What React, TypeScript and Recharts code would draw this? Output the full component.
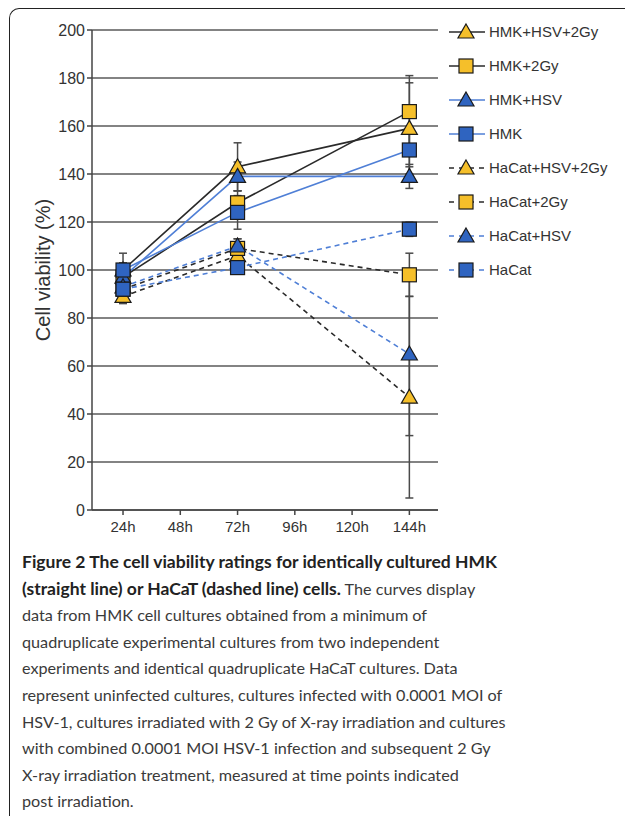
import React from 'react'
import { LineChart, Line, XAxis, YAxis, CartesianGrid, ErrorBar } from 'recharts'

// ---- data ----
const hours = [24, 72, 144]
const hourTicks = [24, 48, 72, 96, 120, 144]
const viabilityTicks = [0, 20, 40, 60, 80, 100, 120, 140, 160, 180, 200]

const hmkHsv2Gy = [100, 143, 159]
const hmkHsv2GyErr = [7, 10, 19]
const hmk2Gy = [97, 128, 166]
const hmk2GyErr = [5, 5, 15]
const hmkHsv = [97, 139, 139]
const hmkHsvErr = [4, 6, 5]
const hmk = [100, 124, 150]
const hmkErr = [3, 7, 7]
const hacatHsv2Gy = [89, 106, 47]
const hacatHsv2GyErr = [3, 4, 42]
const hacat2Gy = [92, 109, 98]
const hacat2GyErr = [3, 4, 9]
const hacatHsv = [93, 110, 65]
const hacatHsvErr = [3, 3, 34]
const hacat = [92, 101, 117]
const hacatErr = [2, 2, 3]

const YELLOW = '#f5bf2a'
const BLUE = '#2f64c0'
const BLACK_LINE = '#2a2a2a'
const BLUE_LINE = '#4f7fd6'

type Series = {
  key: string
  name: string
  values: number[]
  errs: number[]
  color: string
  dashed: boolean
  shape: 'tri' | 'sq'
  fill: string
}

const series: Series[] = [
  { key: 'hmkHsv2Gy', name: 'HMK+HSV+2Gy', values: hmkHsv2Gy, errs: hmkHsv2GyErr, color: BLACK_LINE, dashed: false, shape: 'tri', fill: YELLOW },
  { key: 'hmk2Gy', name: 'HMK+2Gy', values: hmk2Gy, errs: hmk2GyErr, color: BLACK_LINE, dashed: false, shape: 'sq', fill: YELLOW },
  { key: 'hmkHsv', name: 'HMK+HSV', values: hmkHsv, errs: hmkHsvErr, color: BLUE_LINE, dashed: false, shape: 'tri', fill: BLUE },
  { key: 'hmk', name: 'HMK', values: hmk, errs: hmkErr, color: BLUE_LINE, dashed: false, shape: 'sq', fill: BLUE },
  { key: 'hacatHsv2Gy', name: 'HaCat+HSV+2Gy', values: hacatHsv2Gy, errs: hacatHsv2GyErr, color: BLACK_LINE, dashed: true, shape: 'tri', fill: YELLOW },
  { key: 'hacat2Gy', name: 'HaCat+2Gy', values: hacat2Gy, errs: hacat2GyErr, color: BLACK_LINE, dashed: true, shape: 'sq', fill: YELLOW },
  { key: 'hacatHsv', name: 'HaCat+HSV', values: hacatHsv, errs: hacatHsvErr, color: BLUE_LINE, dashed: true, shape: 'tri', fill: BLUE },
  { key: 'hacat', name: 'HaCat', values: hacat, errs: hacatErr, color: BLUE_LINE, dashed: true, shape: 'sq', fill: BLUE },
]

const data = hours.map((h, i) => {
  const row: Record<string, number> = { h }
  series.forEach((s) => {
    row[s.key] = s.values[i]
    row[s.key + 'Err'] = s.errs[i]
  })
  return row
})

const captionBold = [
  'Figure 2 The cell viability ratings for identically cultured HMK',
  '(straight line) or HaCaT (dashed line) cells.',
]
const captionRest = [
  ' The curves display',
  'data from HMK cell cultures obtained from a minimum of',
  'quadruplicate experimental cultures from two independent',
  'experiments and identical quadruplicate HaCaT cultures. Data',
  'represent uninfected cultures, cultures infected with 0.0001 MOI of',
  'HSV-1, cultures irradiated with 2 Gy of X-ray irradiation and cultures',
  'with combined 0.0001 MOI HSV-1 infection and subsequent 2 Gy',
  'X-ray irradiation treatment, measured at time points indicated',
  'post irradiation.',
]

const FONT = '"Liberation Sans", Arial, Helvetica, sans-serif'

function Marker({ cx, cy, shape, fill }: { cx: number; cy: number; shape: string; fill: string }) {
  if (cx == null || cy == null) return null
  if (shape === 'tri') {
    const w = 8, up = 8, down = 6
    return (
      <polygon
        points={`${cx},${cy - up} ${cx + w},${cy + down} ${cx - w},${cy + down}`}
        fill={fill}
        stroke="#1a1a1a"
        strokeWidth={1.2}
      />
    )
  }
  return <rect x={cx - 7} y={cy - 7} width={14} height={14} fill={fill} stroke="#1a1a1a" strokeWidth={1.2} />
}

function LegendBlock() {
  return (
    <svg width={180} height={290} style={{ position: 'absolute', left: 445, top: 0 }}>
      {series.map((s, i) => {
        const y = 32 + i * 34
        return (
          <g key={s.key}>
            <line
              x1={4}
              x2={40}
              y1={y}
              y2={y}
              stroke={s.color}
              strokeWidth={1.6}
              strokeDasharray={s.dashed ? '5 5' : undefined}
            />
            <Marker cx={21} cy={y} shape={s.shape} fill={s.fill} />
            <text x={44} y={y + 5} fontSize={15} fill="#333" fontFamily={FONT}>
              {s.name}
            </text>
          </g>
        )
      })}
    </svg>
  )
}

export default function App() {
  return (
    <div style={{ position: 'absolute', left: 0, top: 0, width: 625, height: 816, background: '#fff', overflow: 'hidden' }}>
      <div
        style={{
          position: 'absolute',
          left: 9,
          top: 8,
          width: 640,
          height: 830,
          borderTop: '1.5px solid #222',
          borderLeft: '1.5px solid #222',
          borderTopLeftRadius: 10,
        }}
      />
      <div style={{ position: 'absolute', left: 0, top: 0 }}>
        <LineChart width={440} height={540} data={data} margin={{ top: 30, right: 2, left: 32, bottom: 0 }}>
          <CartesianGrid vertical={false} stroke="#5a5a5a" strokeWidth={1.6} />
          <XAxis
            dataKey="h"
            type="number"
            domain={[11, 156]}
            ticks={hourTicks}
            allowDataOverflow
            tickFormatter={(v: number) => `${v}h`}
            tick={{ fontSize: 15, fill: '#333', fontFamily: FONT, dy: 4 }}
            axisLine={{ stroke: '#444', strokeWidth: 1.5 }}
            tickLine={{ stroke: '#444', strokeWidth: 1.5 }}
            tickSize={5}
            height={30}
          />
          <YAxis
            domain={[0, 200]}
            ticks={viabilityTicks}
            width={60}
            tick={{ fontSize: 16, fill: '#333', fontFamily: FONT }}
            axisLine={{ stroke: '#444', strokeWidth: 1.5 }}
            tickLine={{ stroke: '#444', strokeWidth: 1.5 }}
            tickSize={5}
            label={{
              value: 'Cell viability (%)',
              angle: -90,
              position: 'insideLeft',
              dx: 6,
              style: { fontSize: 20, fill: '#333', fontFamily: FONT, textAnchor: 'middle' },
            }}
          />
          {series.map((s) => (
            <Line
              key={s.key}
              dataKey={s.key}
              name={s.name}
              type="linear"
              stroke={s.color}
              strokeWidth={1.6}
              strokeDasharray={s.dashed ? '5 4' : undefined}
              isAnimationActive={false}
              dot={(p: any) => (
                <Marker key={`${s.key}-${p.index}`} cx={p.cx} cy={p.cy} shape={s.shape} fill={s.fill} />
              )}
              activeDot={false}
            >
              <ErrorBar dataKey={s.key + 'Err'} direction="y" width={4} stroke="#4a4a4a" strokeWidth={1.5} />
            </Line>
          ))}
        </LineChart>
      </div>
      <LegendBlock />
      <div
        style={{
          position: 'absolute',
          left: 22,
          top: 549,
          width: 600,
          fontFamily: 'Lato, "Open Sans", sans-serif',
          fontSize: 16.2,
          lineHeight: '26.6px',
          color: '#3a3a3a',
          whiteSpace: 'nowrap',
        }}
      >
        <div style={{ fontWeight: 700, color: '#222', fontSize: 17.5 }}>{captionBold[0]}</div>
        <div>
          <span style={{ fontWeight: 700, color: '#222', fontSize: 17.5 }}>{captionBold[1]}</span>
          {captionRest[0]}
        </div>
        {captionRest.slice(1).map((line, i) => (
          <div key={i}>{line}</div>
        ))}
      </div>
    </div>
  )
}
